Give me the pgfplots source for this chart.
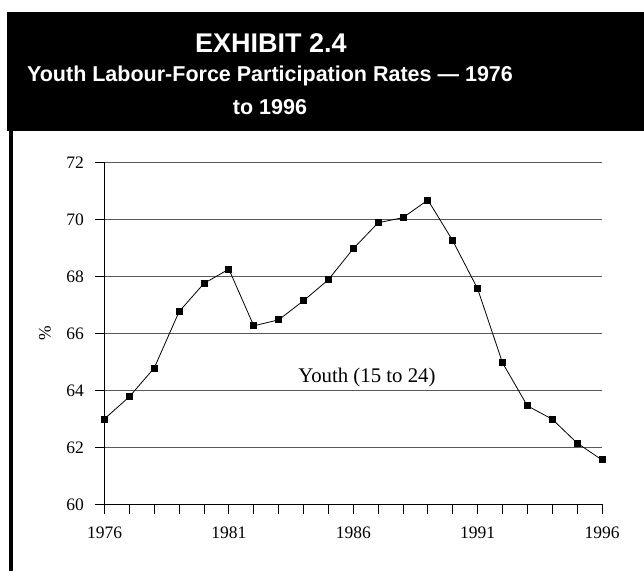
\documentclass[border=0pt]{standalone}
\usepackage{fontspec}
\setmainfont{Liberation Serif}
\newfontfamily\headfont{Liberation Sans}
\usepackage{pgfplots}
\pgfplotsset{compat=1.18}
\begin{document}
\begin{tikzpicture}
\path[use as bounding box] (0pt,0pt) rectangle (644pt,571pt);
\begin{axis}[
  at={(104.5pt,66.7pt)}, anchor=south west,
  scale only axis, width=497.5pt, height=341.6pt,
  xmin=1976, xmax=1996, ymin=60, ymax=72,
  axis lines=left, axis line style={-, black, line width=0.8pt},
  tick align=outside, major tick length=10pt, minor tick length=10pt,
  tick style={black, line width=0.8pt},
  xtick={1976,1981,...,1996}, minor x tick num=4,
  ytick={60,62,...,72},
  ymajorgrids, major grid style={black!65, line width=1pt},
  /pgf/number format/assume math mode=true,
  /pgf/number format/1000 sep={},
  ticklabel style={font=\fontsize{17.5}{17.5}\selectfont},
  xticklabel style={yshift=-9pt},
  yticklabel style={xshift=-7pt},
  clip=false,
]
\addplot[black, line width=0.8pt, mark=square*, mark size=3pt, mark options={solid}] coordinates {
(1976,63.00) (1977,63.78) (1978,64.79) (1979,66.77) (1980,67.76) (1981,68.26)
(1982,66.27) (1983,66.48) (1984,67.15) (1985,67.89) (1986,68.98) (1987,69.89)
(1988,70.07) (1989,70.69) (1990,69.26) (1991,67.57) (1992,64.97) (1993,63.46)
(1994,62.99) (1995,62.15) (1996,61.56)
};
\node[font=\fontsize{20.8}{20.8}\selectfont] at (axis cs:1986.55,64.47) {Youth (15 to 24)};
\end{axis}
\node[rotate=90, font=\fontsize{17.5}{17.5}\selectfont] at (45pt,238pt) {\%};
\fill[black] (7pt,440.3pt) rectangle (644pt,559pt);
\fill[black] (9.3pt,0pt) rectangle (13.3pt,441pt);
\node[anchor=base, text=white, font=\headfont\bfseries\fontsize{27}{27}\selectfont] at (271pt,518pt) {EXHIBIT 2.4};
\node[anchor=base, text=white, font=\headfont\bfseries\fontsize{21.5}{21.5}\selectfont] at (270pt,489pt) {Youth Labour-Force Participation Rates — 1976};
\node[anchor=base, text=white, font=\headfont\bfseries\fontsize{21.5}{21.5}\selectfont] at (270pt,456pt) {to 1996};
\end{tikzpicture}
\end{document}
